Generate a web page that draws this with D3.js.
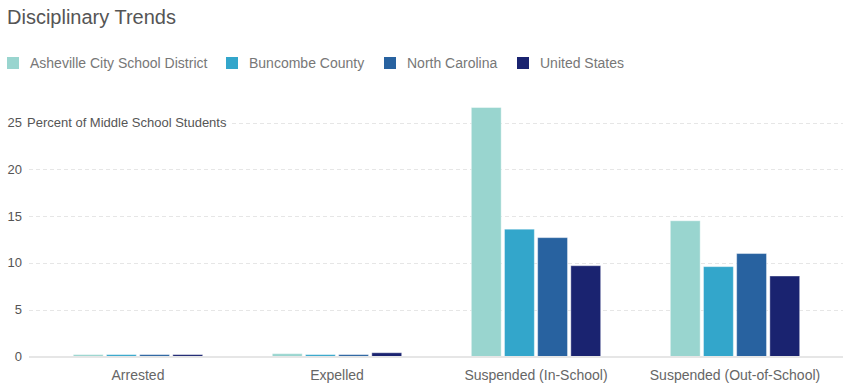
<!DOCTYPE html>
<html>
<head>
<meta charset="utf-8">
<script src="https://cdn.jsdelivr.net/npm/d3@7"></script>
<style>
  body { margin: 0; background: #fff; }
  svg text { font-family: "Helvetica Neue", Helvetica, "Liberation Sans", Arial, sans-serif; }
</style>
</head>
<body>
<div id="chart"></div>
<script>

var categories = ["Arrested", "Expelled", "Suspended (In-School)", "Suspended (Out-of-School)"]

var seriesNames = ["Asheville City School District", "Buncombe County", "North Carolina", "United States"]

var asheville = [0.2, 0.3, 26.6, 14.5]
var buncombe  = [0.2, 0.2, 13.6, 9.6]
var northCarolina = [0.2, 0.2, 12.7, 11.0]
var unitedStates  = [0.2, 0.4, 9.7, 8.6]

var yTicks = [0, 5, 10, 15, 20, 25]

var colors = ["#99d5cf", "#33a6cb", "#2862a0", "#1a2370"]

var seriesValues = [asheville, buncombe, northCarolina, unitedStates]

var width = 848
var height = 389

var svg = d3.select("#chart").append("svg")
  .attr("width", width)
  .attr("height", height)

// title
svg.append("text")
  .attr("x", 7)
  .attr("y", 24)
  .attr("font-size", "20px")
  .attr("fill", "#555")
  .text("Disciplinary Trends")

// legend
var legendX = [7, 226, 384, 517]
var legend = svg.selectAll(".legend")
  .data(seriesNames)
  .enter().append("g")
  .attr("class", "legend")
  .attr("transform", (d, i) => `translate(${legendX[i]}, 57)`)

legend.append("rect")
  .attr("width", 12)
  .attr("height", 12)
  .attr("fill", (d, i) => colors[i])

legend.append("text")
  .attr("x", 23)
  .attr("y", 11)
  .attr("font-size", "14px")
  .attr("fill", "#777")
  .text(d => d)

// scales
var y = d3.scaleLinear().domain([0, 25]).range([356.5, 122.5])

var x0 = d3.scaleBand()
  .domain(categories)
  .range([38.5, 834.5])
  .paddingInner(0.35)
  .paddingOuter(0.175)

var x1 = d3.scaleBand()
  .domain(d3.range(seriesNames.length))
  .range([0, x0.bandwidth()])
  .paddingInner(0.1)

// gridlines
svg.append("g").selectAll("line")
  .data(yTicks.filter(d => d > 0))
  .enter().append("line")
  .attr("x1", d => d === 25 ? 232 : 29)
  .attr("x2", 843)
  .attr("y1", d => Math.round(y(d)) + 0.5)
  .attr("y2", d => Math.round(y(d)) + 0.5)
  .attr("stroke", "#e6e6e6")
  .attr("stroke-dasharray", "4,3")

// y tick labels
svg.append("g").selectAll("text")
  .data(yTicks)
  .enter().append("text")
  .attr("x", 22)
  .attr("y", d => y(d))
  .attr("dy", "0.35em")
  .attr("text-anchor", "end")
  .attr("font-size", "13px")
  .attr("fill", "#555")
  .text(d => d)

svg.append("text")
  .attr("x", 27)
  .attr("y", y(25))
  .attr("dy", "0.35em")
  .attr("font-size", "13px")
  .attr("fill", "#555")
  .text("Percent of Middle School Students")

// bars
var groups = svg.append("g").selectAll("g")
  .data(categories)
  .enter().append("g")
  .attr("transform", d => `translate(${x0(d)}, 0)`)

groups.selectAll("rect")
  .data((d, ci) => seriesValues.map((s, si) => ({ si: si, value: s[ci] })))
  .enter().append("rect")
  .attr("x", d => x1(d.si))
  .attr("width", x1.bandwidth())
  .attr("y", d => y(d.value))
  .attr("height", d => y(0) - y(d.value))
  .attr("fill", d => colors[d.si])
  .attr("stroke", "#fff")
  .attr("stroke-opacity", 0.4)
  .attr("stroke-width", 1)

// baseline
svg.append("line")
  .attr("x1", 29)
  .attr("x2", 843)
  .attr("y1", 357)
  .attr("y2", 357)
  .attr("stroke", "#e6e6e6")
  .attr("stroke-width", 2)

// x labels
svg.append("g").selectAll("text")
  .data(categories)
  .enter().append("text")
  .attr("x", d => x0(d) + x0.bandwidth() / 2)
  .attr("y", 380)
  .attr("text-anchor", "middle")
  .attr("font-size", "14px")
  .attr("fill", "#666")
  .text(d => d)

</script>
</body>
</html>
